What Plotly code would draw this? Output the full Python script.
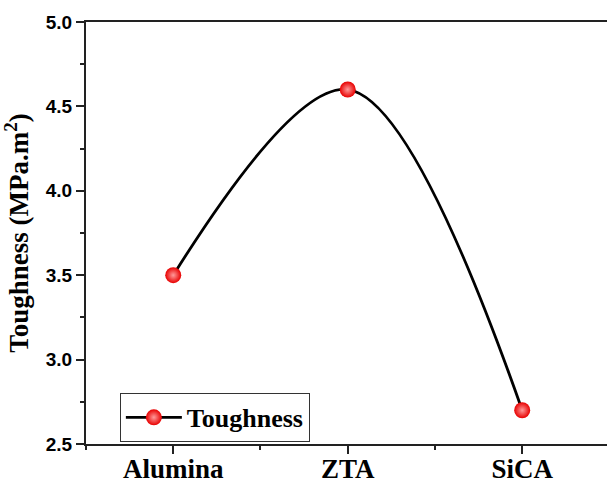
import plotly.graph_objects as go

categories = ["Alumina", "ZTA", "SiCA"]
toughness = [3.5, 4.6, 2.7]
y_ticks = [2.5, 3.0, 3.5, 4.0, 4.5, 5.0]
y_ticklabels = ["2.5", "3.0", "3.5", "4.0", "4.5", "5.0"]

xpos = list(range(len(categories)))

fig = go.Figure()
fig.add_trace(go.Scatter(
    x=xpos, y=toughness, mode="lines+markers", name="<b>Toughness</b>",
    line=dict(color="black", width=2.8, shape="spline", smoothing=1),
    marker=dict(size=16, color="#e80000",
                gradient=dict(type="radial", color="#ff9a9a"),
                line=dict(width=0)),
))

serif = "Liberation Serif, Times New Roman, serif"
sans = "Liberation Sans, Arial, sans-serif"

fig.update_layout(
    width=607, height=481,
    margin=dict(l=86, r=0, t=22, b=37),
    paper_bgcolor="white", plot_bgcolor="white",
    showlegend=True,
    legend=dict(x=0.065, y=0.121, xanchor="left", yanchor="top",
                bordercolor="#333", borderwidth=1, bgcolor="white",
                font=dict(family=serif, size=26, color="black"),
                itemwidth=56),
    xaxis=dict(
        range=[-0.5, 2.486], tickmode="array", tickvals=xpos,
        ticktext=["<b>%s</b>" % c for c in categories],
        showline=True, linecolor="#222", linewidth=2, mirror=True,
        ticks="outside", ticklen=8, tickwidth=1.5, tickcolor="#222",
        showgrid=False, zeroline=False, automargin=False,
        ticklabelstandoff=-8,
        tickfont=dict(family=serif, size=27, color="black"),
        minor=dict(ticks="outside", ticklen=4, tickwidth=1.5, tickcolor="#222", dtick=0.5, tick0=0, showgrid=False),
    ),
    yaxis=dict(
        range=[2.5, 5.0], tickmode="array", tickvals=y_ticks,
        ticktext=["<b>%s</b>" % t for t in y_ticklabels],
        showline=True, linecolor="#222", linewidth=2, mirror=False,
        ticks="outside", ticklen=8, tickwidth=1.5, tickcolor="#222",
        showgrid=False, zeroline=False, automargin=False,
        tickfont=dict(family=sans, size=19, color="black"),
        title=dict(text="<b>Toughness (MPa.m<sup>2</sup>)</b>",
                   font=dict(family=serif, size=27, color="black"), standoff=12),
        minor=dict(ticks="outside", ticklen=4, tickwidth=1.5, tickcolor="#222", dtick=0.25, tick0=2.5, showgrid=False),
    ),
)

fig.write_html("out.html", config={"displayModeBar": False},
               post_script="document.body.style.margin='0';")
